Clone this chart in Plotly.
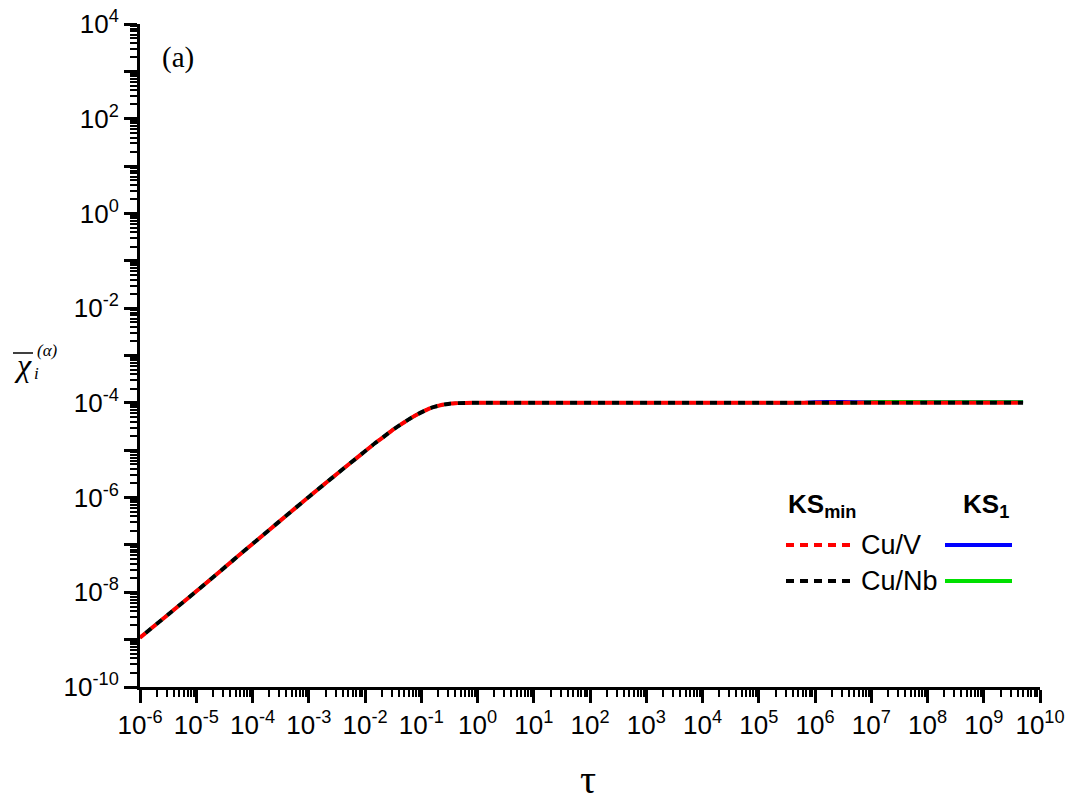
import plotly.graph_objects as go

# ---------------- data ----------------
tau = [1e-6, 1e-5, 1e-4, 1e-3, 3e-3, 1e-2, 1.5e-2, 2e-2, 3e-2, 5e-2, 7e-2, 0.1, 0.13, 0.17, 0.22,
       0.3, 0.4, 0.6, 1.0, 1e1, 1e2, 1e3, 1e4, 1e5, 5e5, 1e6, 5e6, 1e7, 1e8, 1e9, 5e9]
chi_cuv_ksmin = [1.1e-9, 1.05e-8, 1.05e-7, 1.03e-6, 3.0e-6, 9.5e-6, 1.4e-5, 1.8e-5, 2.6e-5, 3.9e-5,
                 5.0e-5, 6.3e-5, 7.3e-5, 8.2e-5, 8.9e-5, 9.5e-5, 9.8e-5, 9.97e-5, 1.0e-4,
                 1.0e-4, 1.0e-4, 1.0e-4, 1.0e-4, 1.0e-4, 1.0e-4, 1.0e-4, 1.0e-4, 1.0e-4, 1.0e-4, 1.0e-4, 1.0e-4]
chi_cunb_ksmin = [1.1e-9, 1.05e-8, 1.05e-7, 1.03e-6, 3.0e-6, 9.5e-6, 1.4e-5, 1.8e-5, 2.6e-5, 3.9e-5,
                  5.0e-5, 6.3e-5, 7.3e-5, 8.2e-5, 8.9e-5, 9.5e-5, 9.8e-5, 9.97e-5, 1.0e-4,
                  1.0e-4, 1.0e-4, 1.0e-4, 1.0e-4, 1.0e-4, 1.0e-4, 1.0e-4, 1.0e-4, 1.0e-4, 1.0e-4, 1.0e-4, 1.0e-4]
chi_cuv_ks1 = [1.1e-9, 1.05e-8, 1.05e-7, 1.03e-6, 3.0e-6, 9.5e-6, 1.4e-5, 1.8e-5, 2.6e-5, 3.9e-5,
               5.0e-5, 6.3e-5, 7.3e-5, 8.2e-5, 8.9e-5, 9.5e-5, 9.8e-5, 9.97e-5, 1.0e-4,
               1.0e-4, 1.0e-4, 1.0e-4, 1.0e-4, 1.0e-4, 1.0e-4, 1.06e-4, 1.06e-4, 1.06e-4, 1.06e-4, 1.06e-4, 1.06e-4]
chi_cunb_ks1 = [1.1e-9, 1.05e-8, 1.05e-7, 1.03e-6, 3.0e-6, 9.5e-6, 1.4e-5, 1.8e-5, 2.6e-5, 3.9e-5,
                5.0e-5, 6.3e-5, 7.3e-5, 8.2e-5, 8.9e-5, 9.5e-5, 9.8e-5, 9.97e-5, 1.0e-4,
                1.0e-4, 1.0e-4, 1.0e-4, 1.0e-4, 1.0e-4, 1.0e-4, 1.0e-4, 1.0e-4, 1.06e-4, 1.06e-4, 1.06e-4, 1.06e-4]

x_decades = list(range(-6, 11))
y_decades = list(range(-10, 5))
x_ticktext = [f"10<sup>{d}</sup>" for d in x_decades]
y_ticktext = [f"10<sup>{d}</sup>" if d % 2 == 0 else "" for d in y_decades]

# ---------------- figure ----------------
W, H = 1067, 805
PLOT_L, PLOT_R, PLOT_T, PLOT_B = 140, 1040, 24, 687   # pixel coords of plot area
L, T, R, B = PLOT_L, PLOT_T, W - PLOT_R, H - PLOT_B
pw, ph = PLOT_R - PLOT_L, PLOT_B - PLOT_T


def px(x):
    return (x - PLOT_L) / pw


def py(y):
    return (PLOT_B - y) / ph


fig = go.Figure()
fig.add_trace(go.Scatter(x=tau, y=chi_cuv_ks1, mode="lines", line=dict(color="#0000ff", width=3, shape="spline"),
                         showlegend=False))
fig.add_trace(go.Scatter(x=tau, y=chi_cunb_ks1, mode="lines", line=dict(color="#00e000", width=3, shape="spline"),
                         showlegend=False))
fig.add_trace(go.Scatter(x=tau, y=chi_cuv_ksmin, mode="lines",
                         line=dict(color="#ff0000", width=4, dash="7px,7px", shape="spline"), showlegend=False))
fig.add_trace(go.Scatter(x=tau, y=chi_cunb_ksmin, mode="lines",
                         line=dict(color="#000000", width=4, dash="0px,7px,7px,0px", shape="spline"),
                         showlegend=False))

x_minor = [m * 10.0 ** d for d in x_decades[:-1] for m in range(2, 10)]
y_minor = [m * 10.0 ** d for d in y_decades[:-1] for m in range(2, 10)]

tick_font = dict(family="Liberation Sans, Arial", size=26, color="black")

fig.update_xaxes(type="log", range=[-6, 10], showgrid=False, zeroline=False,
                 showline=True, linewidth=3, linecolor="black",
                 tickmode="array", tickvals=[10.0 ** d for d in x_decades], ticktext=x_ticktext,
                 ticks="outside", ticklen=13, tickwidth=2.5, tickcolor="black",
                 tickfont=tick_font, ticklabeloverflow="allow",
                 minor=dict(tickmode="array", tickvals=x_minor, ticks="outside", ticklen=7,
                            tickwidth=2, tickcolor="black", showgrid=False))
fig.update_yaxes(type="log", range=[-10, 4], showgrid=False, zeroline=False,
                 showline=True, linewidth=3, linecolor="black",
                 tickmode="array", tickvals=[10.0 ** d for d in y_decades], ticktext=y_ticktext,
                 ticks="outside", ticklen=13, tickwidth=2.5, tickcolor="black",
                 tickfont=tick_font, ticklabeloverflow="allow",
                 minor=dict(tickmode="array", tickvals=y_minor, ticks="outside", ticklen=7,
                            tickwidth=2, tickcolor="black", showgrid=False))

serif = "Liberation Serif, Times New Roman"
sans = "Liberation Sans, Arial"
ann = [
    dict(x=px(178), y=py(57), text="(a)", font=dict(family=serif, size=29, color="black")),
    dict(x=px(588), y=py(804), yanchor="bottom", text="τ", font=dict(family=serif, size=40, color="black")),
    dict(x=px(23), y=py(365), text="<i>χ</i>", font=dict(family=serif, size=32, color="black")),
    dict(x=px(47), y=py(350), text="<i>(α)</i>", font=dict(family=serif, size=17, color="black")),
    dict(x=px(36), y=py(373), text="<i>i</i>", font=dict(family=serif, size=17, color="black")),
    dict(x=px(822), y=py(505), text="<b>KS<sub>min</sub></b>", font=dict(family=sans, size=26, color="black")),
    dict(x=px(986), y=py(505), text="<b>KS<sub>1</sub></b>", font=dict(family=sans, size=26, color="black")),
    dict(x=px(859), y=py(545), text="Cu/V", xanchor="left", font=dict(family=sans, size=27, color="black")),
    dict(x=px(859), y=py(581), text="Cu/Nb", xanchor="left", font=dict(family=sans, size=27, color="black")),
]
for a in ann:
    a.setdefault("xanchor", "center")
    a.setdefault("yanchor", "middle")
    fig.add_annotation(xref="paper", yref="paper", showarrow=False, **a)

legend_lines = [
    (786, 852, 545, "#ff0000", "8px,6px", 4),
    (786, 852, 581, "#000000", "8px,6px", 4),
    (945, 1012, 545, "#0000ff", "solid", 4),
    (945, 1012, 581, "#00e000", "solid", 4),
    (13, 33, 353, "#000000", "solid", 1.5),     # overline of chi
]
for x0, x1, yy, c, d, w in legend_lines:
    fig.add_shape(type="line", xref="paper", yref="paper", x0=px(x0), x1=px(x1), y0=py(yy), y1=py(yy),
                  line=dict(color=c, width=w, dash=d))

fig.update_layout(width=W, height=H, margin=dict(l=L, r=R, t=T, b=B, autoexpand=False),
                  paper_bgcolor="white", plot_bgcolor="white", showlegend=False)

fig.write_html("out.html", config={"displayModeBar": False},
               post_script="document.body.style.margin='0';document.body.style.overflow='hidden';")
